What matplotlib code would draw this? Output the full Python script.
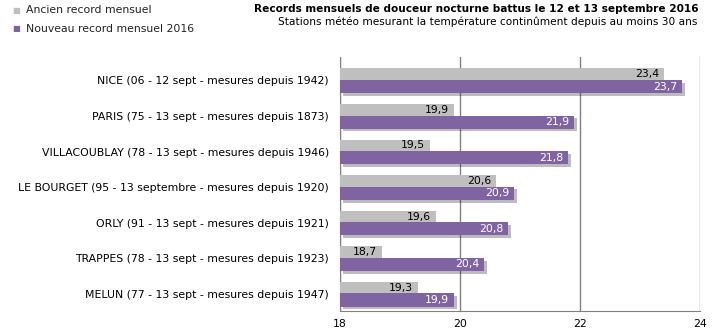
import matplotlib
matplotlib.use('Agg')
import matplotlib.pyplot as plt
import matplotlib.patheffects as pe
import numpy as np

# data
stations = ['NICE (06 - 12 sept - mesures depuis 1942)',
            'PARIS (75 - 13 sept - mesures depuis 1873)',
            'VILLACOUBLAY (78 - 13 sept - mesures depuis 1946)',
            'LE BOURGET (95 - 13 septembre - mesures depuis 1920)',
            'ORLY (91 - 13 sept - mesures depuis 1921)',
            'TRAPPES (78 - 13 sept - mesures depuis 1923)',
            'MELUN (77 - 13 sept - mesures depuis 1947)']
ancien = [23.4, 19.9, 19.5, 20.6, 19.6, 18.7, 19.3]
nouveau = [23.7, 21.9, 21.8, 20.9, 20.8, 20.4, 19.9]
xticks = [18, 20, 22, 24]

grey = '#BFBFBF'
purple = '#8064A2'
fs = 7.8

fig = plt.figure(figsize=(7.15, 3.35), dpi=100)
ax = fig.add_axes([340 / 715, 1 - 311 / 335, 360 / 715, 254 / 335])

y = np.arange(len(stations))
hg = 0.33
hp = 0.37
yg = y - 0.175
yp = y + 0.17
shadow = [pe.SimplePatchShadow(offset=(2, -2), alpha=0.3), pe.Normal()]
ax.barh(yg, [a - 18 for a in ancien], left=18, height=hg, color=grey, zorder=3)
ax.barh(yp, [n - 18 for n in nouveau], left=18, height=hp, color=purple, zorder=3,
        path_effects=shadow)

for i in range(len(stations)):
    ax.text(ancien[i] - 0.08, yg[i], ('%.1f' % ancien[i]).replace('.', ','),
            ha='right', va='center', fontsize=fs, color='black', zorder=4)
    ax.text(nouveau[i] - 0.08, yp[i], ('%.1f' % nouveau[i]).replace('.', ','),
            ha='right', va='center', fontsize=fs, color='white', zorder=4)

ax.set_xlim(18, 24)
ax.set_ylim(6.48, -0.66)
ax.set_xticks(xticks)
ax.set_xticklabels([str(t) for t in xticks], fontsize=fs)
ax.set_yticks(y)
ax.set_yticklabels(stations, fontsize=fs)
ax.tick_params(axis='y', length=0, pad=8)
ax.tick_params(axis='x', length=0, pad=6)
ax.grid(axis='x', color='#808080', linewidth=1, zorder=0)
for s in ['top', 'right']:
    ax.spines[s].set_visible(False)
for s in ['left', 'bottom']:
    ax.spines[s].set_color('#808080')

# legend
fig.text(12 / 715, 1 - 10 / 335, '\u25A0', color=grey, fontsize=6, va='center')
fig.text(26 / 715, 1 - 10 / 335, 'Ancien record mensuel', fontsize=fs, va='center', color='#222222')
fig.text(12 / 715, 1 - 29 / 335, '\u25A0', color=purple, fontsize=6, va='center')
fig.text(26 / 715, 1 - 29 / 335, 'Nouveau record mensuel 2016', fontsize=fs, va='center', color='#222222')

# titles
fig.text(699 / 715, 1 - 9 / 335, 'Records mensuels de douceur nocturne battus le 12 et 13 septembre 2016',
         fontsize=7.6, weight='bold', ha='right', va='center')
fig.text(697 / 715, 1 - 22 / 335, 'Stations météo mesurant la température continûment depuis au moins 30 ans',
         fontsize=7.6, ha='right', va='center')

fig.savefig('out.png', dpi=100)
